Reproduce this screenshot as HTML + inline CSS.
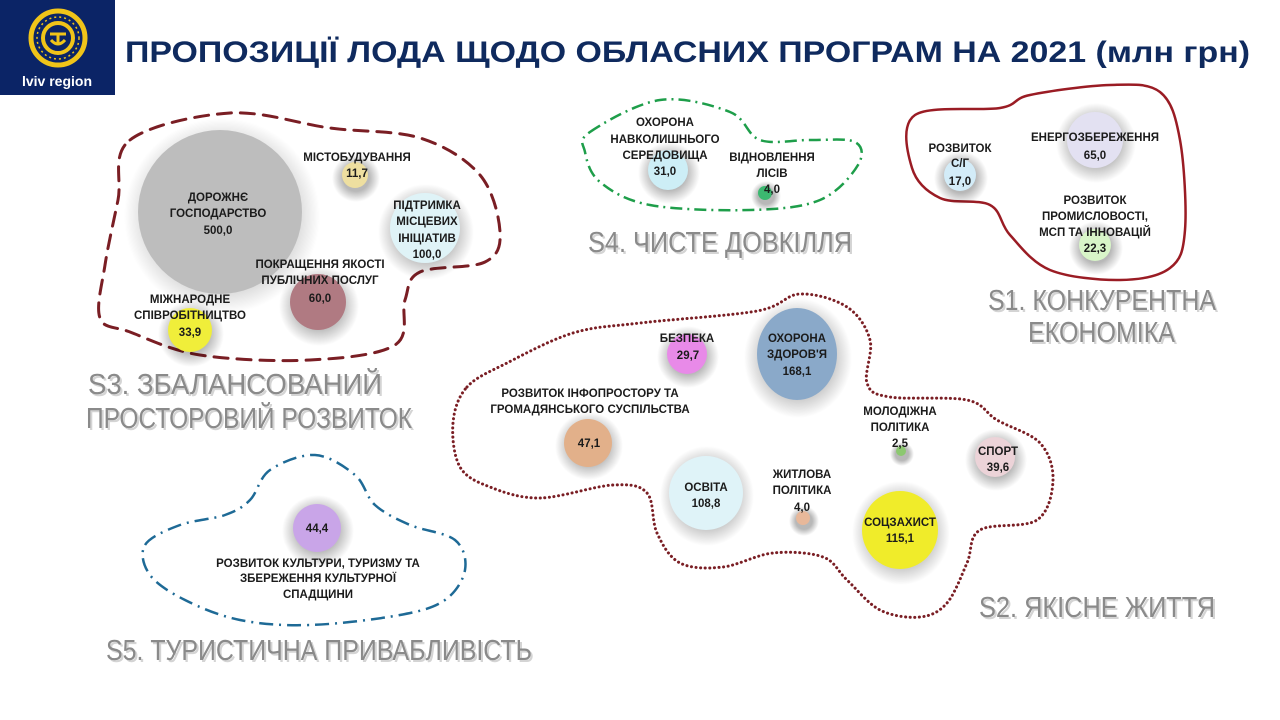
<!DOCTYPE html>
<html><head><meta charset="utf-8">
<style>
html,body{margin:0;padding:0;background:#fff;}
svg{display:block}
.l{font-family:"Liberation Sans",sans-serif;font-weight:bold;font-size:11.5px;fill:#1b1b1b;text-anchor:middle;}
.t{font-family:"Liberation Sans",sans-serif;font-size:29px;fill:#8a8a8a;}
.ts{font-family:"Liberation Sans",sans-serif;font-size:29px;fill:#d4d4d4;}
</style></head><body>
<svg id="s" width="1280" height="720" viewBox="0 0 1280 720" xmlns="http://www.w3.org/2000/svg">
<defs>
<radialGradient id="rg"><stop offset="0.55" stop-color="#000" stop-opacity="0.28"/><stop offset="1" stop-color="#000" stop-opacity="0"/></radialGradient>
</defs>
<rect width="1280" height="720" fill="#fff"/>
<rect x="0" y="0" width="115" height="95" fill="#0b2466"/>
<circle cx="58" cy="38" r="27" fill="none" stroke="#f0c419" stroke-width="5"/>
<circle cx="58" cy="38" r="21" fill="none" stroke="#f0c419" stroke-width="1.5" stroke-dasharray="2 3"/>
<circle cx="58" cy="38" r="15" fill="none" stroke="#f0c419" stroke-width="4"/>
<path d="M50 34 h16 M58 34 v10 M51 40 q7 8 14 0" stroke="#f0c419" stroke-width="3" fill="none"/>
<text x="57" y="86" font-family="Liberation Sans,sans-serif" font-weight="bold" font-size="14" fill="#fff" text-anchor="middle">lviv region</text>
<text x="125" y="62" font-family="Liberation Sans,sans-serif" font-weight="bold" font-size="29.5" fill="#0f2a5e" textLength="1125" lengthAdjust="spacingAndGlyphs">ПРОПОЗИЦІЇ ЛОДА ЩОДО ОБЛАСНИХ ПРОГРАМ НА 2021 (млн грн)</text>

<g id="blobs"></g>

<g fill="url(#rg)">
<circle cx="222" cy="216" r="98"/><circle cx="356" cy="178" r="24"/><circle cx="426" cy="232" r="48"/><circle cx="319" cy="306" r="40"/><circle cx="191" cy="334" r="33"/>
<circle cx="669" cy="173" r="31"/><circle cx="766" cy="196" r="15"/>
<circle cx="1096" cy="143" r="40"/><circle cx="961" cy="178" r="27"/><circle cx="1096" cy="248" r="27"/>
<circle cx="688" cy="357" r="31"/><ellipse cx="798" cy="358" rx="54" ry="60"/><circle cx="589" cy="446" r="34"/><ellipse cx="707" cy="496" rx="47" ry="50"/><circle cx="804" cy="521" r="15"/><circle cx="902" cy="454" r="12"/><circle cx="996" cy="460" r="31"/><ellipse cx="901" cy="533" rx="49" ry="52"/>
<circle cx="318" cy="531" r="36"/>
</g>
<circle cx="220" cy="212" r="82" fill="#bdbdbd"/>
<circle cx="355" cy="175" r="13" fill="#eedfa0"/>
<circle cx="425" cy="228" r="35" fill="#dff3f7"/>
<circle cx="318" cy="302" r="28" fill="#b07a82"/>
<circle cx="190" cy="330" r="22" fill="#f0ee3a"/>
<circle cx="668" cy="170" r="20" fill="#cdeef6"/>
<circle cx="765" cy="193" r="7" fill="#3cb870"/>
<circle cx="1095" cy="140" r="28" fill="#e3e1f2"/>
<circle cx="960" cy="175" r="16" fill="#d3ecf8"/>
<circle cx="1095" cy="245" r="16" fill="#d8f5c8"/>
<circle cx="687" cy="354" r="20" fill="#e88ae8"/>
<ellipse cx="797" cy="354" rx="40" ry="46" fill="#8aa9c9"/>
<ellipse cx="588" cy="443" rx="24" ry="24" fill="#e2b08a"/>
<ellipse cx="706" cy="493" rx="37" ry="37" fill="#dff3f8"/>
<circle cx="803" cy="518" r="7" fill="#e8b89a"/>
<circle cx="901" cy="451" r="5" fill="#8cc870"/>
<circle cx="995" cy="457" r="20" fill="#ecd3d8"/>
<ellipse cx="900" cy="530" rx="38" ry="39" fill="#f0ec2a"/>
<circle cx="317" cy="528" r="24" fill="#c9a5e8"/>

<g class="l">
<text x="218" y="201">ДОРОЖНЄ</text><text x="218" y="217">ГОСПОДАРСТВО</text><text x="218" y="234">500,0</text>
<text x="357" y="161">МІСТОБУДУВАННЯ</text><text x="357" y="177">11,7</text>
<text x="427" y="209">ПІДТРИМКА</text><text x="427" y="225">МІСЦЕВИХ</text><text x="427" y="242">ІНІЦІАТИВ</text><text x="427" y="258">100,0</text>
<text x="320" y="268">ПОКРАЩЕННЯ ЯКОСТІ</text><text x="320" y="284">ПУБЛІЧНИХ ПОСЛУГ</text><text x="320" y="302">60,0</text>
<text x="190" y="303">МІЖНАРОДНЕ</text><text x="190" y="319">СПІВРОБІТНИЦТВО</text><text x="190" y="336">33,9</text>
<text x="665" y="126">ОХОРОНА</text><text x="665" y="143">НАВКОЛИШНЬОГО</text><text x="665" y="159">СЕРЕДОВИЩА</text><text x="665" y="175">31,0</text>
<text x="772" y="161">ВІДНОВЛЕННЯ</text><text x="772" y="177">ЛІСІВ</text><text x="772" y="193">4,0</text>
<text x="1095" y="141">ЕНЕРГОЗБЕРЕЖЕННЯ</text><text x="1095" y="159">65,0</text>
<text x="960" y="152">РОЗВИТОК</text><text x="960" y="167">С/Г</text><text x="960" y="185">17,0</text>
<text x="1095" y="204">РОЗВИТОК</text><text x="1095" y="220">ПРОМИСЛОВОСТІ,</text><text x="1095" y="236">МСП ТА ІННОВАЦІЙ</text><text x="1095" y="252">22,3</text>
<text x="687" y="342">БЕЗПЕКА</text><text x="688" y="359">29,7</text>
<text x="797" y="342">ОХОРОНА</text><text x="797" y="358">ЗДОРОВ'Я</text><text x="797" y="375">168,1</text>
<text x="590" y="397">РОЗВИТОК ІНФОПРОСТОРУ ТА</text><text x="590" y="413">ГРОМАДЯНСЬКОГО СУСПІЛЬСТВА</text><text x="589" y="447">47,1</text>
<text x="706" y="491">ОСВІТА</text><text x="706" y="507">108,8</text>
<text x="802" y="478">ЖИТЛОВА</text><text x="802" y="494">ПОЛІТИКА</text><text x="802" y="511">4,0</text>
<text x="900" y="415">МОЛОДІЖНА</text><text x="900" y="431">ПОЛІТИКА</text><text x="900" y="447">2,5</text>
<text x="998" y="455">СПОРТ</text><text x="998" y="471">39,6</text>
<text x="900" y="526">СОЦЗАХИСТ</text><text x="900" y="542">115,1</text>
<text x="317" y="532">44,4</text>
<text x="318" y="567">РОЗВИТОК КУЛЬТУРИ, ТУРИЗМУ ТА</text><text x="318" y="582">ЗБЕРЕЖЕННЯ КУЛЬТУРНОЇ</text><text x="318" y="598">СПАДЩИНИ</text>
</g>

<g class="ts" transform="translate(2,2)">
<text x="88" y="394" textLength="294" lengthAdjust="spacingAndGlyphs">S3. ЗБАЛАНСОВАНИЙ</text><text x="86" y="428" textLength="326" lengthAdjust="spacingAndGlyphs">ПРОСТОРОВИЙ РОЗВИТОК</text>
<text x="588" y="252" textLength="264" lengthAdjust="spacingAndGlyphs">S4. ЧИСТЕ ДОВКІЛЛЯ</text>
<text x="988" y="310" textLength="228" lengthAdjust="spacingAndGlyphs">S1. КОНКУРЕНТНА</text><text x="1028" y="342" textLength="147" lengthAdjust="spacingAndGlyphs">ЕКОНОМІКА</text>
<text x="979" y="617" textLength="236" lengthAdjust="spacingAndGlyphs">S2. ЯКІСНЕ ЖИТТЯ</text>
<text x="106" y="660" textLength="426" lengthAdjust="spacingAndGlyphs">S5. ТУРИСТИЧНА ПРИВАБЛИВІСТЬ</text>
</g>
<g class="t">
<text x="88" y="394" textLength="294" lengthAdjust="spacingAndGlyphs">S3. ЗБАЛАНСОВАНИЙ</text><text x="86" y="428" textLength="326" lengthAdjust="spacingAndGlyphs">ПРОСТОРОВИЙ РОЗВИТОК</text>
<text x="588" y="252" textLength="264" lengthAdjust="spacingAndGlyphs">S4. ЧИСТЕ ДОВКІЛЛЯ</text>
<text x="988" y="310" textLength="228" lengthAdjust="spacingAndGlyphs">S1. КОНКУРЕНТНА</text><text x="1028" y="342" textLength="147" lengthAdjust="spacingAndGlyphs">ЕКОНОМІКА</text>
<text x="979" y="617" textLength="236" lengthAdjust="spacingAndGlyphs">S2. ЯКІСНЕ ЖИТТЯ</text>
<text x="106" y="660" textLength="426" lengthAdjust="spacingAndGlyphs">S5. ТУРИСТИЧНА ПРИВАБЛИВІСТЬ</text>
</g>
</svg>
<script>
function cr(p){var n=p.length,d="M"+p[0][0]+" "+p[0][1];
for(var i=0;i<n;i++){var p0=p[(i-1+n)%n],p1=p[i],p2=p[(i+1)%n],p3=p[(i+2)%n];
d+=" C"+(p1[0]+(p2[0]-p0[0])/6).toFixed(1)+" "+(p1[1]+(p2[1]-p0[1])/6).toFixed(1)+" "+(p2[0]-(p3[0]-p1[0])/6).toFixed(1)+" "+(p2[1]-(p3[1]-p1[1])/6).toFixed(1)+" "+p2[0]+" "+p2[1];}
return d+"Z";}
var B=[
[[[130,140],[230,113],[330,128],[420,138],[480,175],[500,232],[485,262],[420,272],[405,300],[395,345],[310,360],[200,355],[130,332],[100,318],[105,265],[118,200]],"#7a1e24",3,"14 9","round"],
[[[590,132],[660,100],[730,112],[760,140],[810,140],[855,142],[858,165],[820,200],[750,210],[650,205],[600,182],[585,152]],"#1e9e4a",2.5,"12 5 2 5","butt"],
[[[915,115],[1000,108],[1030,95],[1110,85],[1160,92],[1180,140],[1185,230],[1170,268],[1120,280],[1050,270],[1010,235],[990,205],[940,198],[912,168]],"#9a1c24",2.5,"none","butt"],
[[[467,387],[507,363],[573,333],[640,323],[757,311],[800,294],[847,307],[870,340],[867,383],[890,397],[967,400],[997,420],[1040,443],[1053,480],[1037,520],[980,530],[967,563],[947,603],[920,617],[880,610],[847,580],[823,557],[773,553],[723,567],[680,563],[657,533],[647,493],[613,485],[540,498],[490,487],[460,467],[453,423]],"#7a1e24",3,"0.1 4.5","round"],
[[[145,545],[180,525],[225,515],[250,500],[270,470],[315,455],[355,475],[375,505],[410,525],[455,540],[465,570],[445,600],[400,615],[310,625],[240,620],[185,600],[150,575]],"#1e6a96",2.5,"14 6 2 6","butt"]];
var g=document.getElementById("blobs"),h="";
B.forEach(function(b){h+='<path d="'+cr(b[0])+'" fill="none" stroke="'+b[1]+'" stroke-width="'+b[2]+'" stroke-dasharray="'+b[3]+'" stroke-linecap="'+b[4]+'"/>';});
g.innerHTML=h;
</script>
</body></html>
